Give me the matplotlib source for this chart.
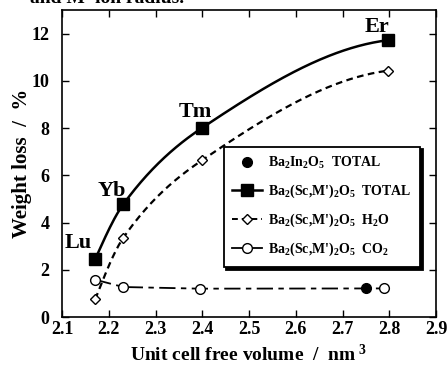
import numpy as np
import matplotlib
matplotlib.use("Agg")
import matplotlib.pyplot as plt
from matplotlib.lines import Line2D

plt.rcParams['font.family'] = ['Liberation Serif', 'DejaVu Serif']
plt.rcParams['font.weight'] = 'bold'
plt.rcParams['mathtext.fontset'] = 'custom'
plt.rcParams['mathtext.rm'] = 'Liberation Serif:bold'
plt.rcParams['mathtext.it'] = 'Liberation Serif:bold'
plt.rcParams['mathtext.bf'] = 'Liberation Serif:bold'

elements = ["Lu", "Yb", "Tm", "Er"]
volume = [2.171, 2.231, 2.399, 2.797]
total = [2.45, 4.77, 8.0, 11.72]
h2o = [0.75, 3.35, 6.63, 10.43]
co2_volume = [2.171, 2.231, 2.395, 2.788]
co2 = [1.58, 1.27, 1.2, 1.21]
in_volume = [2.75]
in_total = [1.21]


def pchip(x, y, n=200):
    x = np.asarray(x, float); y = np.asarray(y, float)
    h = np.diff(x); d = np.diff(y) / h
    m = np.zeros_like(x)
    for k in range(1, len(x) - 1):
        if d[k - 1] * d[k] > 0:
            w1 = 2 * h[k] + h[k - 1]; w2 = h[k] + 2 * h[k - 1]
            m[k] = (w1 + w2) / (w1 / d[k - 1] + w2 / d[k])
    m[0] = ((2 * h[0] + h[1]) * d[0] - h[0] * d[1]) / (h[0] + h[1])
    if np.sign(m[0]) != np.sign(d[0]):
        m[0] = 0
    m[-1] = ((2 * h[-1] + h[-2]) * d[-1] - h[-1] * d[-2]) / (h[-1] + h[-2])
    if np.sign(m[-1]) != np.sign(d[-1]):
        m[-1] = 0
    xs = np.linspace(x[0], x[-1], n)
    idx = np.clip(np.searchsorted(x, xs) - 1, 0, len(x) - 2)
    t = (xs - x[idx]) / h[idx]
    h00 = 2 * t**3 - 3 * t**2 + 1; h10 = t**3 - 2 * t**2 + t
    h01 = -2 * t**3 + 3 * t**2; h11 = t**3 - t**2
    ys = h00 * y[idx] + h10 * h[idx] * m[idx] + h01 * y[idx + 1] + h11 * h[idx] * m[idx + 1]
    return xs, ys


fig = plt.figure(figsize=(4.48, 3.66), dpi=100)
ax = fig.add_axes([62 / 448, 1 - 317 / 366, 374 / 448, 307 / 366])

# curves
xs, ys = pchip(volume, total)
ax.plot(xs, ys, '-', color='black', lw=1.8)
xs, ys = pchip(volume, h2o)
ax.plot(xs, ys, '--', color='black', lw=1.6, dashes=(3, 2))
ax.plot(co2_volume, co2, color='black', lw=1.3, dashes=(9, 3, 3, 3))

ax.plot(volume, total, 's', color='black', ms=8, zorder=5)
ax.plot(volume, h2o, 'D', mfc='white', mec='black', mew=1.0, ms=5.5, zorder=5)
ax.plot(co2_volume, co2, 'o', mfc='white', mec='black', mew=1.0, ms=7, zorder=5)
ax.plot(in_volume, in_total, 'o', color='black', ms=7, zorder=6)

# element labels
offsets = {"Lu": (-0.037, 0.68), "Yb": (-0.024, 0.57),
           "Tm": (-0.014, 0.67), "Er": (-0.024, 0.58)}
for el, xv, yv in zip(elements, volume, total):
    dx, dy = offsets[el]
    ax.text(xv + dx, yv + dy, el, fontsize=16, fontweight='bold', ha='center', va='center')

ax.set_xlim(2.1, 2.9)
ax.set_ylim(0, 13)
ax.set_xticks(np.arange(2.1, 2.91, 0.1))
ax.set_xticklabels([f"{v:.1f}" for v in np.arange(2.1, 2.91, 0.1)])
ax.set_yticks(range(0, 13, 2))
ax.tick_params(direction='in', top=True, right=True, length=5, width=1.0,
               labelsize=13)
ax.tick_params(axis='x', pad=3)
ax.tick_params(axis='y', pad=9)
for lab in ax.get_xticklabels() + ax.get_yticklabels():
    lab.set_fontweight('bold')
for sp in ax.spines.values():
    sp.set_linewidth(1.2)

ax.set_xlabel("Unit cell free volume  /  nm$^{\\ 3}$", fontsize=14, fontweight='bold', labelpad=4)
ax.set_ylabel("Weight loss  /  %", fontsize=15, fontweight='bold', labelpad=0)

handles = [
    Line2D([], [], ls='none', marker='o', color='black', ms=7),
    Line2D([], [], ls='-', marker='s', color='black', ms=8, lw=1.8),
    Line2D([], [], marker='D', mfc='white', mec='black', color='black', ms=5.5, lw=1.4, dashes=(3, 2)),
    Line2D([], [], ls='-', marker='o', mfc='white', mec='black', color='black', ms=7, lw=1.3),
]
labels = [
    "Ba$_2$In$_2$O$_5$  TOTAL",
    "Ba$_2$(Sc,M')$_2$O$_5$  TOTAL",
    "Ba$_2$(Sc,M')$_2$O$_5$  H$_2$O",
    "Ba$_2$(Sc,M')$_2$O$_5$  CO$_2$",
]
leg = ax.legend(handles, labels, loc='upper left', bbox_to_anchor=(0.432, 0.555),
                frameon=True, fancybox=False, shadow={'color': 'black', 'alpha': 1},
                edgecolor='black', fontsize=10, handlelength=2.2, handletextpad=0.4,
                labelspacing=0.85, borderpad=0.6, borderaxespad=0)
leg.get_frame().set_linewidth(1.3)
for t in leg.get_texts():
    t.set_fontweight('bold')

fig.text(30 / 448, 1 - 3 / 366, "and M' ion radius.", fontsize=14, fontweight='bold',
         ha='left', va='baseline')

fig.savefig("out.png", dpi=100)
